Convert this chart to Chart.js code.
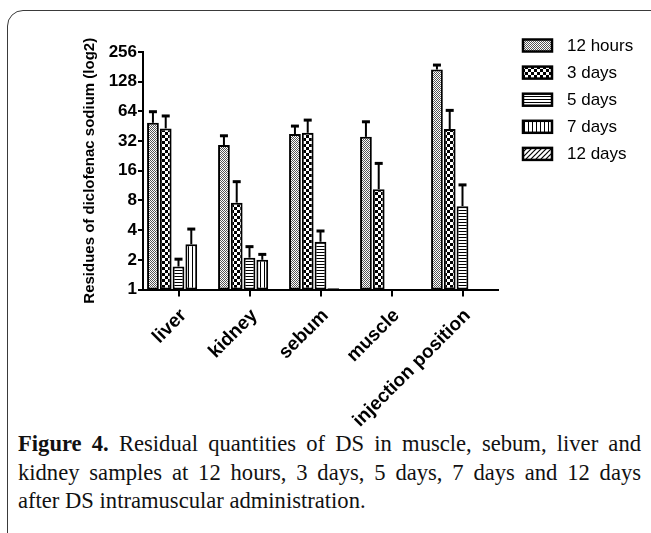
<!DOCTYPE html>
<html><head><meta charset="utf-8">
<script src="https://cdn.jsdelivr.net/npm/chart.js@4/dist/chart.umd.min.js"></script>
<style>
html,body{margin:0;padding:0;background:#fff;width:651px;height:533px;overflow:hidden;position:relative;}
#frame{position:absolute;left:7px;top:10px;width:720px;height:640px;border:1.3px solid #3a3a3a;border-radius:16px;box-sizing:border-box;}
#wrap{position:absolute;left:0;top:0;width:651px;height:430px;}
#caption{position:absolute;left:18px;top:430px;width:623px;font-family:"Liberation Serif","Times New Roman",serif;font-size:22.6px;line-height:28.5px;color:#111;}
.j{text-align:justify;text-align-last:justify;white-space:nowrap;}
</style></head><body>
<div id="frame"></div>
<div id="wrap"><canvas id="c" width="651" height="430"></canvas></div>
<div id="caption">
<div class="j"><b>Figure 4.</b> Residual quantities of DS in muscle, sebum, liver and</div>
<div class="j">kidney samples at 12 hours, 3 days, 5 days, 7 days and 12 days</div>
<div>after DS intramuscular administration.</div>
</div>
<script>
const categories = ['liver', 'kidney', 'sebum', 'muscle', 'injection position'];
const seriesLabels = ['12 hours', '3 days', '5 days', '7 days', '12 days'];
const hours12 = [49, 29.2, 37.7, 35.3, 170];
const days3 = [43, 7.6, 38.8, 10.4, 42.3];
const days5 = [1.71, 2.1, 3.05, null, 7.0];
const days7 = [2.88, 2.0, 1.03, null, null];
const days12 = [null, null, null, null, null];
const hours12Upper = [63.5, 36.2, 45.4, 50.2, 188.7];
const days3Upper = [57.5, 12.4, 52.2, 19, 65.5];
const days5Upper = [2.03, 2.72, 3.92, null, 11.5];
const days7Upper = [4.1, 2.27, null, null, null];
const days12Upper = [null, null, null, null, null];
const yTicks = [1, 2, 4, 8, 16, 32, 64, 128, 256];

function makePattern(kind){
  const t = document.createElement('canvas');
  let w = 4, h = 4;
  if (kind === 'fine') { w = 2; h = 2; }
  if (kind === 'check') { w = 6; h = 6; }
  if (kind === 'hstripe') { w = 4; h = 3; }
  if (kind === 'vstripe') { w = 4; h = 4; }
  if (kind === 'diag') { w = 5; h = 5; }
  t.width = w; t.height = h;
  const g = t.getContext('2d');
  g.fillStyle = '#fff'; g.fillRect(0, 0, w, h);
  g.fillStyle = '#000';
  if (kind === 'fine') { g.fillStyle = '#555'; g.fillRect(0, 0, 1, 1); g.fillRect(1, 1, 1, 1); }
  if (kind === 'check') { g.fillRect(3, 0, 3, 3); g.fillRect(0, 3, 3, 3); }
  if (kind === 'hstripe') { g.fillRect(0, 0, w, 1); }
  if (kind === 'vstripe') { g.fillRect(0, 0, 1, h); }
  if (kind === 'diag') {
    g.strokeStyle = '#000'; g.lineWidth = 1.2;
    g.beginPath(); g.moveTo(-1, 6); g.lineTo(6, -1); g.stroke();
    g.beginPath(); g.moveTo(-1, 1); g.lineTo(1, -1); g.stroke();
    g.beginPath(); g.moveTo(4, 6); g.lineTo(6, 4); g.stroke();
  }
  return document.getElementById('c').getContext('2d').createPattern(t, 'repeat');
}

const seriesValues = [hours12, days3, days5, days7, days12];
const seriesUpper = [hours12Upper, days3Upper, days5Upper, days7Upper, days12Upper];
const patternKinds = ['fine', 'check', 'hstripe', 'vstripe', 'diag'];

const datasets = seriesLabels.map((lab, i) => ({
  label: lab,
  data: seriesValues[i],
  backgroundColor: makePattern(patternKinds[i]),
  borderColor: '#000',
  borderWidth: 2,
  borderSkipped: false,
  categoryPercentage: 0.9,
  barPercentage: 0.92
}));

const errorBarPlugin = {
  id: 'errorBars',
  afterDatasetsDraw(chart) {
    const ctx = chart.ctx, ys = chart.scales.y;
    ctx.save();
    ctx.strokeStyle = '#000';
    chart.data.datasets.forEach((ds, i) => {
      const meta = chart.getDatasetMeta(i);
      meta.data.forEach((bar, j) => {
        const up = seriesUpper[i][j];
        if (up == null || ds.data[j] == null) return;
        const yUp = ys.getPixelForValue(up);
        ctx.lineWidth = 2;
        ctx.beginPath(); ctx.moveTo(bar.x, bar.y); ctx.lineTo(bar.x, yUp); ctx.stroke();
        ctx.lineWidth = 3;
        ctx.beginPath(); ctx.moveTo(bar.x - 4, yUp); ctx.lineTo(bar.x + 4, yUp); ctx.stroke();
      });
    });
    ctx.restore();
  }
};

const sideLegendPlugin = {
  id: 'sideLegend',
  afterDraw(chart) {
    const ctx = chart.ctx;
    ctx.save();
    chart.data.datasets.forEach((ds, i) => {
      const y = 39.5 + i * 27.1;
      ctx.fillStyle = ds.backgroundColor;
      ctx.fillRect(523, y, 29, 12);
      ctx.lineWidth = 2.5; ctx.strokeStyle = '#000';
      ctx.strokeRect(523, y, 29, 12);
      ctx.fillStyle = '#000';
      ctx.font = '17px "Liberation Sans", Arial, sans-serif';
      ctx.textBaseline = 'middle'; ctx.textAlign = 'left';
      ctx.fillText(ds.label, 567, y + 6.5);
    });
    ctx.restore();
  }
};

const FONT = '"Liberation Sans", Arial, sans-serif';

new Chart(document.getElementById('c'), {
  type: 'bar',
  data: { labels: categories, datasets: datasets },
  options: {
    responsive: false,
    animation: false,
    devicePixelRatio: 1,
    layout: { padding: { top: 52, right: 153, left: 0, bottom: 0 } },
    plugins: { legend: { display: false }, tooltip: { enabled: false } },
    scales: {
      x: {
        type: 'category',
        offset: true,
        grid: { offset: false, drawOnChartArea: false, drawTicks: true, tickLength: 7, color: '#000', lineWidth: 2 },
        border: { display: true, color: '#000', width: 2 },
        ticks: { color: '#000', font: { family: FONT, weight: 'bold', size: 19 }, maxRotation: 45, minRotation: 45, padding: 8, labelOffset: 5, autoSkip: false },
        afterFit(s) { s.height = 430 - 289.5; }
      },
      y: {
        type: 'logarithmic',
        min: 1, max: 256,
        afterBuildTicks(s) { s.ticks = yTicks.map(v => ({ value: v })); },
        ticks: { color: '#000', font: { family: FONT, weight: 'bold', size: 17 }, padding: 1, autoSkip: false, callback: v => String(v) },
        grid: { drawOnChartArea: false, drawTicks: true, tickLength: 5, color: '#000', lineWidth: 2 },
        border: { display: true, color: '#000', width: 2 },
        title: { display: true, text: 'Residues of diclofenac sodium (log2)', color: '#000', font: { family: FONT, weight: 'bold', size: 15 }, padding: { top: 81, bottom: 0 } },
        afterFit(s) { s.width = 143; }
      }
    }
  },
  plugins: [errorBarPlugin, sideLegendPlugin]
});
</script>
</body></html>
